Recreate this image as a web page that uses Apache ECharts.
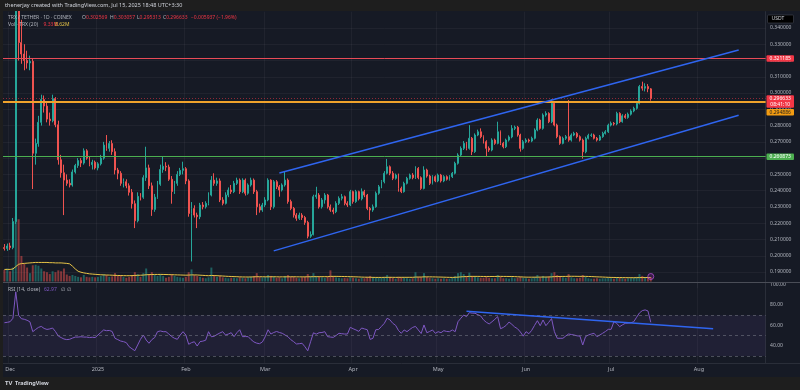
<!DOCTYPE html>
<html><head><meta charset="utf-8">
<script src="https://cdn.jsdelivr.net/npm/echarts@6/dist/echarts.min.js"></script>
<style>html,body{margin:0;padding:0;background:#1e1e1e;}#c{width:800px;height:390px;}</style>
</head><body><div id="c"></div>
<script>
// ---------- DATA (TRX / TETHER, 1D, COINEX) ----------
const firstDay = '2024-11-29';
const lastAxisDay = '2025-08-24';
const opens = [
0.2050,0.2045,0.2060,0.2050,0.2210,0.3800,0.3310,0.3240,0.3200,0.3185,
0.3195,0.2630,0.2690,0.2820,0.2960,0.2920,0.2840,0.2830,0.2965,0.2805,
0.2590,0.2510,0.2465,0.2445,0.2435,0.2515,0.2555,0.2585,0.2570,0.2645,
0.2600,0.2560,0.2575,0.2540,0.2565,0.2600,0.2680,0.2660,0.2690,0.2640,
0.2527,0.2507,0.2445,0.2455,0.2430,0.2390,0.2320,0.2215,0.2365,0.2360,
0.2480,0.2540,0.2430,0.2285,0.2360,0.2440,0.2530,0.2550,0.2545,0.2470,
0.2395,0.2445,0.2500,0.2525,0.2535,0.2460,0.2260,0.2290,0.2250,0.2240,
0.2312,0.2301,0.2322,0.2373,0.2465,0.2445,0.2460,0.2343,0.2322,0.2373,
0.2404,0.2394,0.2445,0.2465,0.2394,0.2465,0.2384,0.2435,0.2465,0.2394,
0.2301,0.2281,0.2312,0.2343,0.2465,0.2301,0.2455,0.2424,0.2404,0.2435,
0.2465,0.2333,0.2291,0.2250,0.2230,0.2250,0.2235,0.2205,0.2120,0.2130,
0.2363,0.2373,0.2301,0.2343,0.2373,0.2301,0.2281,0.2271,0.2322,0.2353,
0.2363,0.2322,0.2312,0.2394,0.2333,0.2394,0.2350,0.2394,0.2373,0.2291,
0.2281,0.2301,0.2384,0.2424,0.2455,0.2507,0.2547,0.2507,0.2476,0.2496,
0.2414,0.2394,0.2445,0.2476,0.2496,0.2480,0.2537,0.2480,0.2414,0.2527,
0.2490,0.2445,0.2486,0.2460,0.2496,0.2460,0.2486,0.2470,0.2486,0.2507,
0.2568,0.2619,0.2660,0.2691,0.2660,0.2722,0.2640,0.2742,0.2762,0.2732,
0.2701,0.2660,0.2650,0.2711,0.2691,0.2762,0.2691,0.2670,0.2711,0.2730,
0.2783,0.2790,0.2742,0.2660,0.2701,0.2711,0.2705,0.2722,0.2773,0.2834,
0.2783,0.2865,0.2875,0.2824,0.2937,0.2803,0.2732,0.2691,0.2722,0.2732,
0.2711,0.2742,0.2752,0.2732,0.2711,0.2639,0.2722,0.2740,0.2742,0.2722,
0.2711,0.2732,0.2752,0.2762,0.2803,0.2814,0.2810,0.2875,0.2824,0.2860,
0.2850,0.2870,0.2890,0.2906,0.2937,0.3040,0.3030,0.3040,0.302569];
const highs = [
0.2072,0.2075,0.2080,0.2232,0.4498,0.3900,0.3450,0.3300,0.3260,0.3230,
0.3215,0.2720,0.2860,0.2990,0.2985,0.2950,0.2880,0.2990,0.2975,0.2830,
0.2620,0.2560,0.2500,0.2470,0.2530,0.2565,0.2600,0.2600,0.2660,0.2655,
0.2610,0.2590,0.2585,0.2575,0.2620,0.2700,0.2742,0.2705,0.2710,0.2660,
0.2540,0.2520,0.2475,0.2470,0.2445,0.2410,0.2340,0.2390,0.2385,0.2495,
0.2670,0.2560,0.2450,0.2380,0.2460,0.2560,0.2610,0.2575,0.2560,0.2490,
0.2460,0.2520,0.2540,0.2578,0.2545,0.2470,0.2330,0.2310,0.2265,0.2325,
0.2330,0.2335,0.2390,0.2490,0.2507,0.2480,0.2475,0.2360,0.2390,0.2420,
0.2435,0.2460,0.2480,0.2475,0.2476,0.2475,0.2445,0.2480,0.2475,0.2405,
0.2320,0.2325,0.2360,0.2476,0.2470,0.2465,0.2465,0.2435,0.2445,0.2517,
0.2475,0.2345,0.2300,0.2262,0.2265,0.2262,0.2245,0.2215,0.2150,0.2375,
0.2424,0.2385,0.2355,0.2385,0.2380,0.2315,0.2295,0.2335,0.2365,0.2380,
0.2370,0.2335,0.2405,0.2400,0.2405,0.2400,0.2414,0.2405,0.2380,0.2300,
0.2315,0.2395,0.2435,0.2465,0.2520,0.2595,0.2555,0.2520,0.2505,0.2505,
0.2425,0.2455,0.2485,0.2505,0.2508,0.2550,0.2545,0.2488,0.2550,0.2535,
0.2498,0.2495,0.2494,0.2505,0.2503,0.2495,0.2494,0.2495,0.2515,0.2578,
0.2630,0.2672,0.2705,0.2700,0.2803,0.2730,0.2752,0.2775,0.2783,0.2740,
0.2710,0.2672,0.2722,0.2720,0.2824,0.2770,0.2700,0.2720,0.2740,0.2803,
0.2800,0.2798,0.2750,0.2712,0.2722,0.2720,0.2732,0.2783,0.2845,0.2842,
0.2875,0.2888,0.2882,0.2961,0.2945,0.2812,0.2740,0.2732,0.2742,0.2957,
0.2752,0.2762,0.2760,0.2740,0.2720,0.2732,0.2750,0.2752,0.2750,0.2730,
0.2742,0.2762,0.2772,0.2812,0.2825,0.2822,0.2885,0.2882,0.2870,0.2872,
0.2880,0.2900,0.2916,0.2950,0.3050,0.3070,0.3060,0.3055,0.303057];
const lows = [
0.2032,0.2030,0.2036,0.2040,0.2195,0.3200,0.3180,0.3140,0.3150,0.3140,
0.2410,0.2560,0.2670,0.2800,0.2880,0.2820,0.2800,0.2820,0.2790,0.2560,
0.2480,0.2250,0.2430,0.2420,0.2425,0.2505,0.2540,0.2545,0.2560,0.2590,
0.2550,0.2530,0.2530,0.2525,0.2555,0.2590,0.2645,0.2640,0.2620,0.2500,
0.2470,0.2430,0.2420,0.2415,0.2370,0.2290,0.2170,0.2205,0.2340,0.2350,
0.2460,0.2410,0.2245,0.2270,0.2350,0.2430,0.2510,0.2520,0.2460,0.2320,
0.2380,0.2430,0.2490,0.2500,0.2440,0.2240,0.1965,0.2235,0.2170,0.2225,
0.2285,0.2290,0.2310,0.2365,0.2430,0.2430,0.2330,0.2310,0.2315,0.2360,
0.2380,0.2385,0.2435,0.2380,0.2385,0.2370,0.2375,0.2425,0.2380,0.2250,
0.2265,0.2270,0.2300,0.2335,0.2281,0.2290,0.2410,0.2363,0.2395,0.2425,
0.2320,0.2280,0.2235,0.2215,0.2220,0.2220,0.2190,0.2107,0.2110,0.2125,
0.2350,0.2290,0.2290,0.2320,0.2290,0.2270,0.2255,0.2262,0.2312,0.2340,
0.2310,0.2300,0.2305,0.2320,0.2325,0.2340,0.2340,0.2360,0.2280,0.2220,
0.2270,0.2295,0.2375,0.2415,0.2445,0.2500,0.2495,0.2465,0.2468,0.2394,
0.2385,0.2388,0.2438,0.2468,0.2470,0.2472,0.2470,0.2405,0.2408,0.2480,
0.2435,0.2438,0.2452,0.2452,0.2450,0.2452,0.2462,0.2462,0.2478,0.2500,
0.2560,0.2610,0.2650,0.2648,0.2652,0.2619,0.2632,0.2735,0.2722,0.2690,
0.2609,0.2638,0.2642,0.2682,0.2685,0.2680,0.2660,0.2662,0.2702,0.2722,
0.2772,0.2732,0.2640,0.2652,0.2692,0.2695,0.2698,0.2715,0.2765,0.2775,
0.2775,0.2855,0.2815,0.2815,0.2795,0.2722,0.2682,0.2685,0.2712,0.2701,
0.2702,0.2735,0.2722,0.2702,0.2597,0.2630,0.2715,0.2730,0.2715,0.2702,
0.2705,0.2725,0.2745,0.2755,0.2795,0.2800,0.2802,0.2815,0.2818,0.2842,
0.2842,0.2862,0.2882,0.2898,0.2930,0.3015,0.3010,0.3005,0.295313];
const closes = [
0.2045,0.2060,0.2050,0.2210,0.3800,0.3310,0.3240,0.3200,0.3185,0.3195,
0.2630,0.2690,0.2820,0.2960,0.2920,0.2840,0.2830,0.2965,0.2805,0.2590,
0.2510,0.2465,0.2445,0.2435,0.2515,0.2555,0.2585,0.2570,0.2645,0.2600,
0.2560,0.2575,0.2540,0.2565,0.2600,0.2680,0.2660,0.2690,0.2640,0.2527,
0.2507,0.2445,0.2455,0.2430,0.2390,0.2320,0.2215,0.2365,0.2360,0.2480,
0.2540,0.2430,0.2285,0.2360,0.2440,0.2530,0.2550,0.2545,0.2470,0.2395,
0.2445,0.2500,0.2525,0.2535,0.2460,0.2260,0.2290,0.2250,0.2240,0.2312,
0.2301,0.2322,0.2373,0.2465,0.2445,0.2460,0.2343,0.2322,0.2373,0.2404,
0.2394,0.2445,0.2465,0.2394,0.2465,0.2384,0.2435,0.2465,0.2394,0.2301,
0.2281,0.2312,0.2343,0.2465,0.2301,0.2455,0.2424,0.2404,0.2435,0.2465,
0.2333,0.2291,0.2250,0.2230,0.2250,0.2235,0.2205,0.2120,0.2130,0.2363,
0.2373,0.2301,0.2343,0.2373,0.2301,0.2281,0.2271,0.2322,0.2353,0.2363,
0.2322,0.2312,0.2394,0.2333,0.2394,0.2350,0.2394,0.2373,0.2291,0.2281,
0.2301,0.2384,0.2424,0.2455,0.2507,0.2547,0.2507,0.2476,0.2496,0.2414,
0.2394,0.2445,0.2476,0.2496,0.2480,0.2537,0.2480,0.2414,0.2527,0.2490,
0.2445,0.2486,0.2460,0.2496,0.2460,0.2486,0.2470,0.2486,0.2507,0.2568,
0.2619,0.2660,0.2691,0.2660,0.2722,0.2640,0.2742,0.2762,0.2732,0.2701,
0.2660,0.2650,0.2711,0.2691,0.2762,0.2691,0.2670,0.2711,0.2730,0.2783,
0.2790,0.2742,0.2660,0.2701,0.2711,0.2705,0.2722,0.2773,0.2834,0.2783,
0.2865,0.2875,0.2824,0.2937,0.2803,0.2732,0.2691,0.2722,0.2732,0.2711,
0.2742,0.2752,0.2732,0.2711,0.2639,0.2722,0.2740,0.2742,0.2722,0.2711,
0.2732,0.2752,0.2762,0.2803,0.2814,0.2810,0.2875,0.2824,0.2860,0.2850,
0.2870,0.2890,0.2906,0.2937,0.3040,0.3030,0.3040,0.3026,0.296633];
// volume, millions of TRX
const volumes = [
25,28,22,30,140,134,55,38,30,18,
35,36,34,28,22,20,16,22,20,24,
22,28,15,12,14,12,10,9,14,10,
9,10,9,10,12,16,14,10,11,18,
12,14,10,8,10,14,20,16,10,18,
28,16,20,14,12,16,12,8,10,16,
12,10,9,8,10,20,26,14,12,10,
8,7,9,30,14,10,12,9,8,7,
8,8,7,9,8,7,9,10,12,18,
10,9,10,14,12,11,8,9,7,12,
14,10,11,8,7,9,10,16,12,18,
12,10,9,8,11,24,12,9,8,7,
8,7,9,8,7,6,8,7,10,12,
9,8,9,8,10,14,10,8,6,10,
9,8,7,6,7,20,10,9,18,10,
8,7,6,7,6,7,6,6,8,12,
18,20,16,12,19,12,10,9,8,8,
10,8,7,7,14,10,7,7,6,9,
7,8,10,8,7,6,7,10,14,9,
12,10,11,18,20,14,12,9,8,16,
9,7,7,8,14,10,7,6,6,7,
6,7,7,8,7,6,9,8,7,6,
7,7,8,10,16,12,9,8,9.33];
// volume MA (20)
const volumeMA = [
26,26,26,27,32,37,38.5,39,39.5,40,
40.5,41,41,41,41,41,40.5,40.5,40,40,
40,39.5,39,38,33,27,22,20,18.5,17.5,
16.5,16,15.5,15,14.5,14.2,14,13.8,13.5,13.2,
13,12.8,12.6,12.5,12.5,12.6,13,13.3,13.5,13.8,
14.5,14.8,15,15.2,15.2,15.3,15.2,15,14.8,14.6,
14.4,14.2,14,13.8,13.6,13.8,14.2,14.2,14,13.6,
13.2,12.8,12.5,13,12.8,12.5,12.2,11.8,11.4,11,
10.8,10.5,10.3,10,9.8,9.7,9.7,9.8,10,10.3,
10.3,10.2,10.1,10.1,10.2,10.2,10.1,10,10,10,
10.1,10.2,10.2,10.1,10,10,10,10.2,10.2,10.4,
10.4,10.4,10.4,10.4,10.4,11,11,11,10.9,10.8,
10.7,10.5,10.4,10.2,10,9.8,9.5,9.3,9.2,9.1,
8.9,8.8,8.8,8.8,8.9,9,9,9,8.9,9,
9,9,9,9,9,9.5,9.6,9.6,10,10,
10,9.9,9.8,9.6,9.5,9.3,9.1,8.9,8.8,9,
9.4,10,10.4,10.6,11,11,11,11,10.9,10.8,
10.8,10.8,10.8,10.8,11,11,10.9,10.9,10.8,10.8,
10.5,10.2,10,9.6,9.4,9.3,9.3,9.3,9.4,9.5,
9.6,9.6,9.7,10,10.5,10.7,10.8,10.9,10.9,11.2,
11.2,11.2,11.1,11,11.1,11,10.8,10.6,10.3,10,
9.8,9.6,9.3,9,8.8,8.7,8.6,8.5,8.4,8.3,
8.2,8.2,8.2,8.3,8.4,8.5,8.5,8.6,8.62];
const rsi = [
62.6,63.0,63.6,67.0,93.0,70.0,66.5,66.0,65.0,63.5,
53.8,56.0,58.0,59.0,57.0,56.0,56.5,57.4,54.0,49.5,
48.0,46.6,46.0,46.3,47.5,48.5,48.5,48.8,48.5,48.5,
48.0,48.3,48.0,50.5,53.0,55.5,54.8,55.0,54.0,47.3,
46.0,44.6,44.0,43.0,39.0,37.0,35.1,40.7,46.3,50.5,
45.6,42.4,46.0,48.0,53.8,54.5,53.8,53.8,51.5,49.0,
47.3,46.3,50.5,53.8,50.5,41.4,43.0,43.9,39.7,44.0,
44.5,45.4,53.8,48.8,49.3,51.0,52.5,53.8,50.5,51.5,
52.8,48.9,52.8,55.7,48.9,49.0,48.9,46.0,43.7,42.5,
42.0,43.7,48.8,55.7,51.5,53.0,54.0,53.0,52.2,50.5,
48.9,46.0,44.0,41.7,42.0,42.4,39.0,35.0,43.9,52.7,
51.4,52.8,53.0,53.8,48.9,48.5,48.2,50.0,52.2,51.8,
51.5,51.5,58.1,56.7,55.5,54.1,57.4,56.5,55.7,46.2,
47.3,55.7,56.0,59.0,62.0,67.0,65.4,62.0,60.0,55.0,
52.2,55.5,53.8,56.0,58.0,59.0,55.5,52.0,60.4,52.8,
54.0,55.5,52.2,53.8,52.8,54.8,54.0,53.8,55.5,53.8,
63.6,67.0,70.2,68.6,72.5,72.0,71.9,70.5,69.3,65.4,
63.0,61.4,63.6,66.0,68.6,56.7,58.0,60.0,63.3,61.0,
58.4,56.7,53.5,49.4,53.8,51.8,55.1,60.0,64.6,59.7,
65.3,59.7,63.0,66.7,53.8,47.3,47.3,47.3,49.5,51.5,
51.0,50.5,49.7,49.5,40.7,49.0,50.5,51.5,52.2,48.9,
50.5,52.2,54.0,56.1,56.1,63.6,62.0,58.7,60.5,62.0,
62.3,62.6,63.6,68.0,72.2,74.5,75.2,74.2,62.97];
const priceTicks = [0.19,0.20,0.21,0.22,0.23,0.24,0.25,0.26,0.27,0.28,0.29,0.30,0.31,0.32,0.33,0.34];
const resistanceLevel = 0.321185;
const midLevel = 0.294886;
const supportLevel = 0.260873;
const lastPrice = 0.296633;
const countdown = '08:41:10';
const upperChannel = [['2025-03-06', 0.2509], ['2025-08-15', 0.3265]];
const lowerChannel = [['2025-03-04', 0.2030], ['2025-08-15', 0.2863]];
const rsiTrend = [['2025-05-11', 73.8], ['2025-08-06', 56.7]];
const rsiLevels = [70, 50, 30];
const legendOHLC = ['0.302569', '0.303057', '0.295313', '0.296633', '−0.005937 (−1.96%)'];
const legendVol = ['9.33M', '8.62M'];
const legendRsi = '62.97';

// ---------- BUILD ----------
const MONTHS = ['Jan','Feb','Mar','Apr','May','Jun','Jul','Aug','Sep','Oct','Nov','Dec'];
const dates = [];
(function(){
  const a = Date.parse(firstDay + 'T00:00:00Z'), b = Date.parse(lastAxisDay + 'T00:00:00Z');
  for (let t = a; t <= b; t += 86400000) dates.push(new Date(t).toISOString().slice(0,10));
})();
const isMonthStart = (i, v) => String(v).slice(8) === '01';
const monthLabel = v => { const m = +v.slice(5,7); return m === 1 ? v.slice(0,4) : MONTHS[m-1]; };

const UP = '#26a69a', DOWN = '#ef5350';
const FONT = '"Noto Sans", "Liberation Sans", sans-serif';
const AXIS_TXT = '#b2b5be';

const candles = closes.map((c, i) => [opens[i], c, lows[i], highs[i]]);
const volBars = volumes.map((v, i) => ({ value: v, itemStyle: { color: closes[i] >= opens[i] ? 'rgba(38,166,154,0.5)' : 'rgba(239,83,80,0.5)' } }));

const chart = echarts.init(document.getElementById('c'), null, { renderer: 'canvas', width: 800, height: 390 });
const L = 3, R = 34.4;
chart.setOption({
  backgroundColor: '#161a25',
  animation: false,
  grid: [
    { left: L, right: R, top: 11.7, height: 276.6 },
    { left: L, right: R, top: 170, height: 111.5 },
    { left: L, right: R, top: 283, height: 80 }
  ],
  xAxis: [0, 1, 2].map(k => ({
    type: 'category', gridIndex: k, data: dates, boundaryGap: true,
    axisLine: { show: false }, axisTick: { show: false },
    axisLabel: { show: k === 2, interval: isMonthStart, formatter: monthLabel, color: AXIS_TXT, fontSize: 5.5, fontFamily: FONT, margin: 3 },
    splitLine: { show: k !== 1, interval: isMonthStart, lineStyle: { color: 'rgba(255,255,255,0.045)', width: 1 } }
  })),
  yAxis: [
    { type: 'value', gridIndex: 0, position: 'right', min: 0.18, max: 0.35, interval: 0.01,
      axisLine: { show: true, lineStyle: { color: '#2a2e39' } }, axisTick: { show: false }, splitLine: { show: false },
      axisLabel: { color: AXIS_TXT, fontSize: 5, fontFamily: FONT, margin: 4.5, formatter: v => (v < 0.1855 || v > 0.3455) ? '' : v.toFixed(6) } },
    { type: 'value', gridIndex: 1, min: 0, max: 240, show: false },
    { type: 'value', gridIndex: 2, position: 'right', min: 23, max: 101.67, interval: 1,
      axisLine: { show: true, lineStyle: { color: '#2a2e39' } }, axisTick: { show: false }, splitLine: { show: false },
      axisLabel: { color: AXIS_TXT, fontSize: 5, fontFamily: FONT, margin: 4.5, formatter: v => { const r = Math.round(v); return (Math.abs(v - r) < 1e-6 && r % 20 === 0 && r >= 40 && r <= 100) ? r.toFixed(2) : ''; } } }
  ],
  series: [
    { name: 'grid', type: 'line', xAxisIndex: 0, yAxisIndex: 0, data: closes, showSymbol: false, silent: true, z: 0,
      lineStyle: { opacity: 0 },
      markLine: { silent: true, z: 1, precision: 6, symbol: 'none', label: { show: false },
        lineStyle: { color: 'rgba(255,255,255,0.045)', type: 'solid', width: 1 },
        data: priceTicks.map(v => ({ yAxis: v })) } },
    { name: 'Volume', type: 'bar', xAxisIndex: 1, yAxisIndex: 1, data: volBars, barWidth: '70%', z: 1, silent: true },
    { name: 'Vol MA', type: 'line', xAxisIndex: 1, yAxisIndex: 1, data: volumeMA, showSymbol: false, z: 2,
      lineStyle: { color: '#e8c547', width: 1 } },
    { name: 'TRX', type: 'candlestick', xAxisIndex: 0, yAxisIndex: 0, data: candles, barWidth: '50%', z: 3,
      itemStyle: { color: UP, color0: DOWN, borderColor: UP, borderColor0: DOWN, borderWidth: 1 },
      markLine: { silent: true, precision: 6, symbol: 'none', label: { show: false }, z: 6,
        data: [
          { yAxis: resistanceLevel, lineStyle: { color: '#e84b57', width: 1, type: 'solid' } },
          { yAxis: lastPrice, lineStyle: { color: 'rgba(242,54,69,0.55)', width: 1, type: [1, 2] } },
          { yAxis: midLevel, lineStyle: { color: '#f0a32c', width: 2, type: 'solid' } },
          { yAxis: supportLevel, lineStyle: { color: '#4caf50', width: 1, type: 'solid' } }
        ] } },
    { name: 'upper', type: 'line', xAxisIndex: 0, yAxisIndex: 0, data: upperChannel, showSymbol: false, z: 7,
      lineStyle: { color: '#2f65f0', width: 1.5 } },
    { name: 'lower', type: 'line', xAxisIndex: 0, yAxisIndex: 0, data: lowerChannel, showSymbol: false, z: 7,
      lineStyle: { color: '#2f65f0', width: 1.5 } },
    { name: 'RSI', type: 'line', xAxisIndex: 2, yAxisIndex: 2, data: rsi, showSymbol: false, z: 4,
      lineStyle: { color: '#7e57c2', width: 1 },
      markArea: { silent: true, itemStyle: { color: 'rgba(126,87,194,0.1)' }, data: [[{ yAxis: rsiLevels[0] }, { yAxis: rsiLevels[2] }]] },
      markLine: { silent: true, precision: 6, symbol: 'none', label: { show: false },
        lineStyle: { color: 'rgba(120,123,134,0.55)', type: [3, 3], width: 1 },
        data: rsiLevels.map(v => ({ yAxis: v })) } },
    { name: 'RSI trend', type: 'line', xAxisIndex: 2, yAxisIndex: 2, data: rsiTrend, showSymbol: false, z: 5,
      lineStyle: { color: '#2f65f0', width: 1.5 } }
  ]
});

// ---------- overlay texts / tags ----------
const mctx = document.createElement('canvas').getContext('2d');
function run(x, y, parts, font) {
  mctx.font = font; const els = []; let cx = x;
  parts.forEach(([t, c]) => { els.push({ type: 'text', z: 100, x: cx, y: y, silent: true, style: { text: t, fill: c, font: font, align: 'left', verticalAlign: 'middle' } }); cx += mctx.measureText(t).width; });
  return els;
}
const py = v => chart.convertToPixel({ yAxisIndex: 0 }, v);
const pxd = d => chart.convertToPixel({ xAxisIndex: 0 }, d);
const F5 = '5px ' + FONT;
const G = [];
// frame
G.push({ type: 'rect', z: 90, shape: { x: 0, y: 0, width: 800, height: 11 }, style: { fill: '#1e1e1e' } });
G.push({ type: 'rect', z: 90, shape: { x: 0, y: 377, width: 800, height: 13 }, style: { fill: '#1e1e1e' } });
G.push({ type: 'rect', z: 90, shape: { x: 0, y: 0, width: 3, height: 390 }, style: { fill: '#1e1e1e' } });
G.push({ type: 'line', z: 91, shape: { x1: 3, y1: 282.5, x2: 800, y2: 282.5 }, style: { stroke: '#4a4d57', lineWidth: 1 } });
G.push({ type: 'line', z: 91, shape: { x1: 3, y1: 363.5, x2: 800, y2: 363.5 }, style: { stroke: '#2a2e39', lineWidth: 1 } });
G.push(...run(5, 5.8, [['thenerjay created with TradingView.com, Jul 15, 2025 18:48 UTC+3:30', '#d1d4dc']], '5.5px ' + FONT));
G.push(...run(5, 383.5, [['TV', '#d1d4dc']], 'bold 6px ' + FONT));
G.push(...run(15, 383.5, [['TradingView', '#d1d4dc']], 'bold 5.5px ' + FONT));
// main legend
const RED = '#f23645', LG = '#b2b5be';
G.push(...run(8, 17.3, [['TRX / TETHER · 1D · COINEX', LG]], F5));
G.push(...run(82, 17.3, [['O', LG], [legendOHLC[0], RED]], F5));
G.push(...run(110, 17.3, [['H', LG], [legendOHLC[1], RED]], F5));
G.push(...run(137, 17.3, [['L', LG], [legendOHLC[2], RED]], F5));
G.push(...run(163, 17.3, [['C', LG], [legendOHLC[3], RED]], F5));
G.push(...run(191, 17.3, [[legendOHLC[4], RED]], F5));
G.push(...run(8, 24.3, [['Vol · TRX (20)', LG]], F5));
G.push(...run(43.5, 24.3, [[legendVol[0], RED]], F5));
G.push(...run(55, 24.3, [[legendVol[1], '#e8c547']], F5));
// RSI legend
G.push(...run(8, 289.3, [['RSI (14, close)', LG]], F5));
G.push(...run(44, 289.3, [[legendRsi, '#7e57c2']], F5));
G.push(...run(60.5, 289.3, [['∅', LG]], F5));
G.push(...run(67, 289.3, [['∅', LG]], F5));
// price tags
function tag(value, lines, bg, fg, dy) {
  const y = py(value) + dy;
  const h = lines.length === 1 ? 6.5 : 12.5;
  const top = lines.length === 1 ? y - h / 2 : y - 3.4;
  G.push({ type: 'rect', z: 100, shape: { x: 766.5, y: top, width: 27.5, height: h, r: 1 }, style: { fill: bg } });
  lines.forEach((t, k) => G.push({ type: 'text', z: 101, x: 780.2, y: lines.length === 1 ? y : y + 0.4 + k * 5.4,
    style: { text: t, fill: fg, font: F5, align: 'center', verticalAlign: 'middle' } }));
}
tag(resistanceLevel, [resistanceLevel.toFixed(6)], '#f23645', '#ffffff', 0);
tag(lastPrice, [lastPrice.toFixed(6), countdown], '#f23645', '#ffffff', 0);
tag(midLevel, [midLevel.toFixed(6)], '#f39c12', '#1e1e1e', 11);
tag(supportLevel, [supportLevel.toFixed(6)], '#4caf50', '#ffffff', 0);
// currency box
G.push({ type: 'rect', z: 100, shape: { x: 767.5, y: 15, width: 26, height: 8, r: 1 }, style: { fill: '#000000', stroke: '#434651', lineWidth: 0.6 } });
G.push({ type: 'text', z: 101, x: 771.5, y: 19, style: { text: 'USDT', fill: '#d1d4dc', font: F5, align: 'left', verticalAlign: 'middle' } });
// event marker at last bar
G.push({ type: 'circle', z: 100, shape: { cx: pxd(dates[closes.length - 1]), cy: 276.5, r: 3 }, style: { fill: 'rgba(156,39,176,0.25)', stroke: '#b04fd0', lineWidth: 0.8 } });
chart.setOption({ graphic: G });
</script></body></html>
